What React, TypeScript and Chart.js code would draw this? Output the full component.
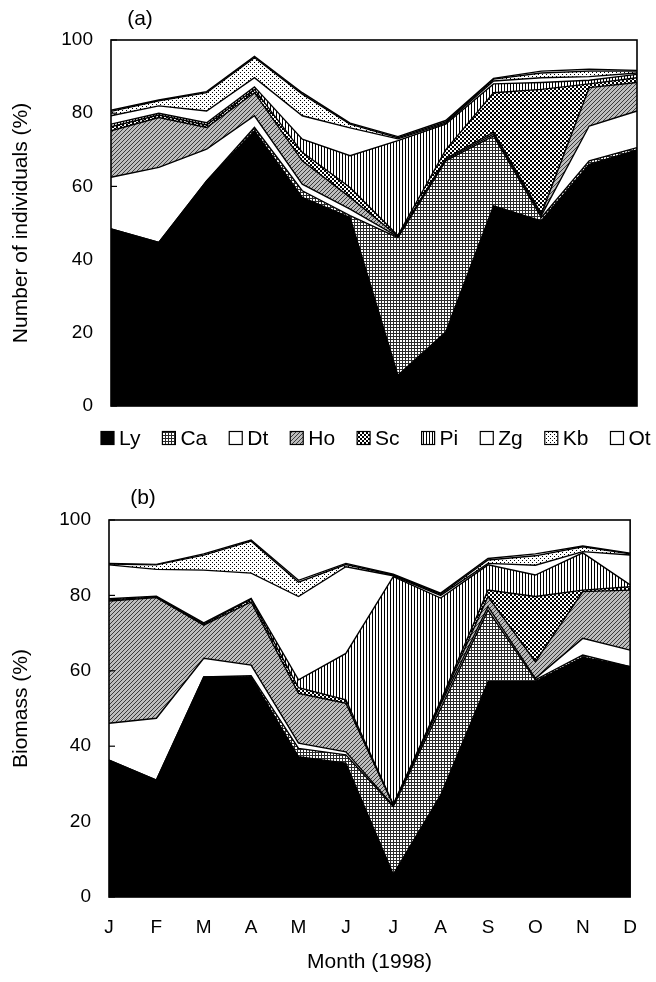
import React, { useEffect, useRef } from 'react';
import { Chart, registerables } from 'chart.js';

Chart.register(...registerables);

const FONT = '"Liberation Sans", Arial, Helvetica, sans-serif';

const MONTHS = ['J', 'F', 'M', 'A', 'M', 'J', 'J', 'A', 'S', 'O', 'N', 'D'];
const SERIES = ['Ly', 'Ca', 'Dt', 'Ho', 'Sc', 'Pi', 'Zg', 'Kb', 'Ot'];
const Y_TICKS = [0, 20, 40, 60, 80, 100];

// (a) Number of individuals (%)
const indLy = [48.4, 44.7, 61.5, 75.2, 57.0, 51.5, 8.4, 20.2, 54.7, 50.6, 66.0, 70.0];
const indCa = [0, 0, 0, 0.9, 1.8, 0.5, 37.6, 46.8, 19.1, 0.9, 1.0, 0.6];
const indDt = [14.1, 20.5, 8.7, 3.2, 1.8, 1.8, 0.2, 0.3, 0.5, 0.5, 9.5, 10.0];
const indHo = [12.7, 13.6, 5.9, 6.3, 6.4, 3.2, 0.2, 0.3, 0.5, 0.5, 10.5, 7.8];
const indSc = [1.1, 0.7, 0.7, 0.9, 2.3, 2.7, 0.2, 2.4, 10.8, 34.0, 1.0, 1.3];
const indPi = [0.7, 0.5, 0.6, 0.7, 3.6, 8.7, 25.9, 7.0, 2.4, 1.9, 1.0, 0.9];
const indZg = [2.3, 2.0, 3.2, 2.5, 6.4, 7.6, 0.5, 0.3, 0.8, 1.3, 1.0, 0.4];
const indKb = [1.2, 1.4, 5.0, 5.5, 5.9, 1.0, 0.3, 0.3, 0.5, 1.3, 1.5, 0.5];
const indOt = [0.3, 0.2, 0.3, 0.3, 0.4, 0.3, 0.3, 0.4, 0.2, 0.5, 0.5, 0.2];

// (b) Biomass (%)
const bioLy = [36.3, 31.0, 58.4, 58.4, 37.2, 35.5, 6.0, 27.0, 57.1, 57.1, 63.6, 61.1];
const bioCa = [0, 0, 0, 0.3, 2.2, 2.2, 18.0, 23.0, 19.0, 0.5, 0.6, 0];
const bioDt = [9.8, 16.4, 4.9, 2.8, 1.4, 0.8, 0.2, 1.0, 0.9, 0.4, 4.4, 4.4];
const bioHo = [32.4, 32.0, 8.8, 16.8, 13.2, 12.9, 0.2, 0.5, 2.7, 4.4, 12.4, 15.9];
const bioSc = [0.3, 0.2, 0.3, 0.7, 1.5, 0.9, 0.2, 0.5, 1.7, 17.3, 0.4, 0.9];
const bioPi = [0.3, 0.2, 0.3, 0.2, 2.1, 12.3, 60.4, 27.3, 6.7, 5.7, 9.9, 0.5];
const bioZg = [9.0, 7.1, 14.0, 6.7, 22.1, 23.0, 0.2, 0.7, 0.4, 2.6, 0.3, 7.9];
const bioKb = [0.2, 1.2, 4.0, 8.5, 3.8, 0.6, 0.2, 0.3, 0.9, 2.5, 1.3, 0.3];
const bioOt = [0.2, 0.1, 0.3, 0.3, 0.5, 0.3, 0.2, 0.3, 0.4, 0.5, 0.2, 0.2];

const IND_VALUES = [indLy, indCa, indDt, indHo, indSc, indPi, indZg, indKb, indOt];
const BIO_VALUES = [bioLy, bioCa, bioDt, bioHo, bioSc, bioPi, bioZg, bioKb, bioOt];

function tile(w: number, h: number, draw: (c: CanvasRenderingContext2D) => void) {
  const cv = document.createElement('canvas');
  cv.width = w;
  cv.height = h;
  const c = cv.getContext('2d')!;
  draw(c);
  return c.createPattern(cv, 'repeat') as CanvasPattern;
}

function makeFills(): (string | CanvasPattern)[] {
  const ca = tile(3, 3, (c) => {
    c.fillStyle = '#fff'; c.fillRect(0, 0, 3, 3);
    c.fillStyle = '#2a2a2a'; c.fillRect(0, 0, 3, 1); c.fillRect(0, 0, 1, 3);
  });
  const ho = tile(4, 4, (c) => {
    c.fillStyle = '#bdbdbd'; c.fillRect(0, 0, 4, 4);
    c.fillStyle = '#3a3a3a';
    c.fillRect(3, 0, 1, 1); c.fillRect(2, 1, 1, 1); c.fillRect(1, 2, 1, 1); c.fillRect(0, 3, 1, 1);
  });
  const sc = tile(4, 4, (c) => {
    c.fillStyle = '#000'; c.fillRect(0, 0, 4, 4);
    c.fillStyle = '#fff'; c.fillRect(0, 0, 2, 2); c.fillRect(2, 2, 2, 2);
  });
  const pi = tile(3, 1, (c) => {
    c.fillStyle = '#fff'; c.fillRect(0, 0, 3, 1);
    c.fillStyle = '#000'; c.fillRect(0, 0, 1, 1);
  });
  const kb = tile(4, 4, (c) => {
    c.fillStyle = '#fff'; c.fillRect(0, 0, 4, 4);
    c.fillStyle = '#000'; c.fillRect(0, 0, 1, 1); c.fillRect(2, 2, 1, 1);
  });
  return ['#000', ca, '#fff', ho, sc, pi, '#fff', kb, '#fff'];
}

const frameBox = {
  id: 'frameBox',
  afterDatasetsDraw(chart: any) {
    const { ctx, chartArea: a } = chart;
    const ys = chart.scales.y;
    ctx.save();
    ctx.strokeStyle = '#000';
    ctx.lineWidth = 1.6;
    ctx.strokeRect(a.left, a.top, a.right - a.left, a.bottom - a.top);
    ctx.lineWidth = 1.2;
    Y_TICKS.forEach((v) => {
      const y = ys.getPixelForValue(v);
      ctx.beginPath();
      ctx.moveTo(a.left, y);
      ctx.lineTo(a.left + 6, y);
      ctx.stroke();
    });
    ctx.restore();
  },
};

const panelLabel = {
  id: 'panelLabel',
  afterDraw(chart: any, _args: any, opts: any) {
    if (!opts || !opts.text) return;
    const ctx = chart.ctx;
    ctx.save();
    ctx.font = opts.font;
    ctx.fillStyle = '#000';
    ctx.textAlign = 'center';
    ctx.textBaseline = 'middle';
    ctx.fillText(opts.text, opts.x, opts.y);
    ctx.restore();
  },
};

const patternLegend = {
  id: 'patternLegend',
  afterDraw(chart: any, _args: any, opts: any) {
    if (!opts || !opts.show) return;
    const ctx = chart.ctx;
    ctx.save();
    ctx.font = opts.font;
    ctx.textBaseline = 'middle';
    ctx.textAlign = 'left';
    let x = opts.x;
    const y = opts.y;
    const b = opts.box;
    chart.data.datasets.forEach((ds: any) => {
      ctx.fillStyle = ds.backgroundColor;
      ctx.fillRect(x, y - b / 2, b, b);
      ctx.strokeStyle = '#000';
      ctx.lineWidth = 1.2;
      ctx.strokeRect(x, y - b / 2, b, b);
      x += b + opts.textGap;
      ctx.fillStyle = '#000';
      ctx.fillText(ds.label, x, y + 1);
      x += ctx.measureText(ds.label).width + opts.itemGap;
    });
    ctx.restore();
  },
};

type PanelOpts = {
  values: number[][];
  fills: (string | CanvasPattern)[];
  yTitle: string;
  showMonths: boolean;
  label: string;
  labelX: number;
  labelY: number;
  legend: boolean;
  canvasH: number;
  top: number;
  bottom: number;
  left: number;
  right: number;
};

function buildConfig(p: PanelOpts): any {
  const datasets = SERIES.map((name, i) => ({
    label: name,
    data: p.values[i],
    backgroundColor: p.fills[i],
    borderColor: '#000',
    borderWidth: 1.4,
    pointRadius: 0,
    tension: 0,
    fill: i === 0 ? 'origin' : '-1',
  }));
  return {
    type: 'line',
    data: { labels: MONTHS, datasets },
    plugins: [frameBox, panelLabel, patternLegend],
    options: {
      responsive: false,
      animation: false,
      events: [],
      layout: { padding: { top: p.top, left: 0, right: 656 - p.right, bottom: 0 } },
      plugins: {
        legend: { display: false },
        tooltip: { enabled: false },
        title: { display: false },
        panelLabel: { text: p.label, x: p.labelX, y: p.labelY, font: `21px ${FONT}` },
        patternLegend: {
          show: p.legend, x: 101, y: 438, box: 13, textGap: 5, itemGap: 22,
          font: `21px ${FONT}`,
        },
      },
      scales: {
        x: {
          type: 'category',
          offset: false,
          grid: { display: false, drawTicks: false },
          border: { display: false },
          ticks: {
            display: p.showMonths,
            padding: 19,
            maxRotation: 0,
            autoSkip: false,
            color: '#000',
            font: { size: 19, family: FONT },
          },
          title: {
            display: p.showMonths,
            text: 'Month (1998)',
            color: '#000',
            font: { size: 21, family: FONT },
            padding: { top: 0, bottom: 7 },
          },
          afterFit: (s: any) => { s.height = p.canvasH - p.bottom; },
        },
        y: {
          stacked: true,
          min: 0,
          max: 100,
          grid: { display: false, drawTicks: false },
          border: { display: false },
          afterBuildTicks: (s: any) => { s.ticks = Y_TICKS.map((v) => ({ value: v })); },
          ticks: {
            padding: 18,
            color: '#000',
            font: { size: 19, family: FONT },
          },
          title: {
            display: true,
            text: p.yTitle,
            color: '#000',
            font: { size: 21, family: FONT },
            padding: { top: 9, bottom: 0 },
          },
          afterFit: (s: any) => { s.width = p.left; },
        },
      },
    },
  };
}

export default function App() {
  const refA = useRef<HTMLCanvasElement>(null);
  const refB = useRef<HTMLCanvasElement>(null);

  useEffect(() => {
    Chart.defaults.font.family = FONT;
    Chart.defaults.color = '#000';
    const fills = makeFills();
    const a = new Chart(refA.current!, buildConfig({
      values: IND_VALUES, fills, yTitle: 'Number of individuals (%)', showMonths: false,
      label: '(a)', labelX: 140, labelY: 19, legend: true,
      canvasH: 470, top: 40, bottom: 406, left: 111, right: 637,
    }));
    const b = new Chart(refB.current!, buildConfig({
      values: BIO_VALUES, fills, yTitle: 'Biomass (%)', showMonths: true,
      label: '(b)', labelX: 143, labelY: 28, legend: false,
      canvasH: 512, top: 50, bottom: 427, left: 109, right: 647,
    }));
    return () => { a.destroy(); b.destroy(); };
  }, []);

  return (
    <div style={{ position: 'absolute', left: 0, top: 0, width: 656, height: 982, background: '#fff' }}>
      <canvas ref={refA} width={656} height={470}
        style={{ position: 'absolute', left: 0, top: 0, width: 656, height: 470 }} />
      <canvas ref={refB} width={656} height={512}
        style={{ position: 'absolute', left: 0, top: 470, width: 656, height: 512 }} />
    </div>
  );
}
